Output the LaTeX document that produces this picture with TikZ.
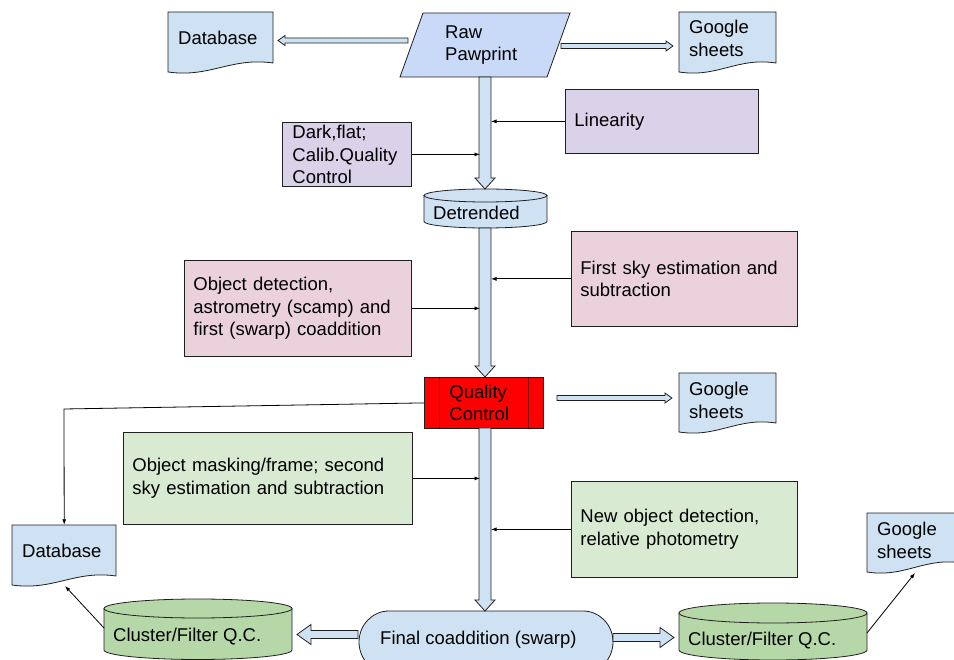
\documentclass[tikz,border=0pt]{standalone}
\usepackage{fontspec}
\setmainfont{Liberation Sans}
\usetikzlibrary{calc,arrows.meta}
\definecolor{docblue}{HTML}{CFE2F3}
\definecolor{rawblue}{HTML}{C9DAF8}
\definecolor{lav}{HTML}{D9D2E9}
\definecolor{pinkb}{HTML}{EAD1DC}
\definecolor{greenb}{HTML}{D9EAD3}
\definecolor{greencyl}{HTML}{B6D7A8}
\definecolor{qcred}{HTML}{FF0000}
\definecolor{qcline}{HTML}{7A0000}
\definecolor{edge}{HTML}{1F1F1F}

% fat (hollow) arrow from #1 to #2: shaft half width #3, head half width #4, head length #5
\newcommand\fatarrow[5]{%
  \coordinate (fah) at ($(#2)!#5!(#1)$);
  \filldraw[fatstyle] ($(#1)!#3!90:(#2)$) -- ($(fah)!#3!90:(#2)$) -- ($(fah)!#4!90:(#2)$) -- (#2)
    -- ($(fah)!#4!-90:(#2)$) -- ($(fah)!#3!-90:(#2)$) -- ($(#1)!#3!-90:(#2)$) -- cycle;}
% document shape: fill, left, top, right, bottom(left end of wave)
\newcommand\docshape[5]{%
  \filldraw[fill=#1,draw=edge,line width=0.8pt] (#2,#3) -- (#4,#3) -- (#4,{#5-9})
    .. controls ({#4-0.4*(#4-#2)},{#5-15}) and ({#2+0.4*(#4-#2)},{#5+6}) .. (#2,#5) -- cycle;}
% cylinder: fill, left, right, top ellipse centre y, bottom ellipse centre y, ry
\newcommand\cylshape[6]{%
  \filldraw[fill=#1,draw=edge,line width=0.8pt] (#2,#4) -- (#2,#5) arc (180:0:{(#3-#2)/2} and #6) -- (#3,#4) -- cycle;
  \filldraw[fill=#1,draw=edge,line width=0.8pt] ({(#2+#3)/2},#4) ellipse ({(#3-#2)/2} and #6);}

\begin{document}
\begin{tikzpicture}[x=1pt,y=-1pt,font={\fontsize{18.5}{22.8}\selectfont},
  box/.style={draw=edge,line width=0.8pt,align=left,inner xsep=9pt,inner ysep=0pt,anchor=north west,text=black},
  docnode/.style={anchor=west,inner xsep=10pt,inner ysep=0pt,align=left,minimum height=52pt,text=black},
  txt/.style={align=left,inner sep=0pt,text=black},
  conn/.style={draw=black,line width=0.8pt,-{Latex[length=5.5pt,width=4pt]}},
  fatstyle/.style={fill=docblue,draw=edge,line width=0.8pt}]
\useasboundingbox (0,0) rectangle (954,660);
\fill[white] (0,0) rectangle (954,660);
\clip (0,0) rectangle (954,660);

% documents
\docshape{docblue}{168}{12}{273}{72}
\node[docnode,text width=85pt] (db1) at (168,38) {Database};
\docshape{docblue}{679}{12}{776}{72}
\node[docnode,text width=77pt] (gs1) at (679,38) {Google\\sheets};
\docshape{docblue}{679}{373}{776}{432}
\node[docnode,text width=77pt] (gs2) at (679,400) {Google\\sheets};
\docshape{docblue}{867}{513}{962}{572}
\node[docnode,text width=75pt] (gs3) at (867,540) {Google\\sheets};
\docshape{docblue}{12}{525}{116}{585}
\node[docnode,text width=84pt] (db2) at (12,551) {Database};

% raw pawprint
\filldraw[fill=rawblue,draw=edge,line width=0.8pt] (423,13) -- (570,13) -- (547,77) -- (400,77) -- cycle;
\node[txt,anchor=west] (raw) at (445,45) {Raw\\Pawprint};

% process boxes
\node[box,fill=lav,minimum width=193pt,minimum height=64pt,text width=175pt] (lin) at (565,89) {Linearity};
\node[box,fill=lav,minimum width=129pt,minimum height=64pt,text width=109pt,inner xsep=10pt] (dark) at (282,122) {Dark,flat;\\Calib.Quality\\Control};
\node[box,fill=pinkb,minimum width=227pt,minimum height=96pt,text width=209pt] (objdet) at (184,260) {Object detection,\\astrometry (scamp) and\\first (swarp) coaddition};
\node[box,fill=pinkb,minimum width=226pt,minimum height=95pt,text width=208pt] (firstsky) at (571,231) {First sky estimation and\\subtraction};
\node[box,fill=greenb,minimum width=289pt,minimum height=92pt,text width=271pt] (objmask) at (123,432) {Object masking/frame; second\\sky estimation and subtraction};
\node[box,fill=greenb,minimum width=226pt,minimum height=96pt,text width=208pt] (newobj) at (571,481) {New object detection,\\relative photometry};

% cylinders
\cylshape{docblue}{424}{547}{195.5}{221.5}{6.5}
\node[txt,anchor=west] (det) at (433,213) {Detrended};
\cylshape{greencyl}{104}{292}{608.5}{650}{9.5}
\node[txt,anchor=west] (cl1) at (113,637) {Cluster/Filter Q.C.};
\cylshape{greencyl}{679}{867}{613}{650}{10}
\node[txt,anchor=west] (cl2) at (688,641) {Cluster/Filter Q.C.};

% final coaddition
\filldraw[fill=docblue,draw=edge,line width=0.8pt] (389,611) -- (583,611) arc (-90:90:30 and 31) -- (389,673) arc (90:270:30 and 31) -- cycle;
\node[txt,anchor=west] (fin) at (380,640) {Final coaddition (swarp)};

% quality control
\node[draw=edge,line width=0.8pt,fill=qcred,anchor=north west,minimum width=119pt,minimum height=51pt,
  inner xsep=25pt,inner ysep=0pt,text width=69pt,align=left,text=black] (qc) at (424,377) {Quality\\Control};
\draw[qcline,line width=0.8pt] ([xshift=15pt]qc.north west) -- ([xshift=15pt]qc.south west);
\draw[qcline,line width=0.8pt] ([xshift=-15pt]qc.north east) -- ([xshift=-15pt]qc.south east);

% main vertical arrows
\coordinate (v1a) at (485,77);  \coordinate (v1b) at (485,189);
\coordinate (v2a) at (485,228); \coordinate (v2b) at (485,377);
\coordinate (v3a) at (485,428); \coordinate (v3b) at (485,611);
\fatarrow{v1a}{v1b}{6pt}{10pt}{11pt}
\fatarrow{v2a}{v2b}{6pt}{10pt}{11pt}
\fatarrow{v3a}{v3b}{6pt}{10pt}{11pt}

% horizontal hollow arrows
\coordinate (h1a) at (408,40.5); \coordinate (h1b) at (278,40.5);
\coordinate (h2a) at (561,46);   \coordinate (h2b) at (673,46);
\coordinate (h3a) at (557,398);  \coordinate (h3b) at (672,398);
\coordinate (h4a) at (358,634.5); \coordinate (h4b) at (297,634.5);
\coordinate (h5a) at (613,637.5); \coordinate (h5b) at (674,637.5);
\fatarrow{h1a}{h1b}{2.5pt}{5pt}{7pt}
\fatarrow{h2a}{h2b}{2.5pt}{5pt}{7pt}
\fatarrow{h3a}{h3b}{2.5pt}{5pt}{7pt}
\fatarrow{h4a}{h4b}{4pt}{10pt}{14pt}
\fatarrow{h5a}{h5b}{4pt}{10pt}{14pt}

% thin connectors
\coordinate (mainL) at (480,0);
\coordinate (mainR) at (491,0);
\draw[conn] (lin.west) -- (lin.west -| mainR);
\draw[conn] (dark.east) -- (dark.east -| mainL);
\draw[conn] (firstsky.west) -- (firstsky.west -| mainR);
\draw[conn] (objdet.east) -- (objdet.east -| mainL);
\draw[conn] (objmask.east) -- (objmask.east -| mainL);
\draw[conn] (newobj.west) -- (newobj.west -| mainR);
\coordinate (qcbend) at (64,409);
\draw[conn] (qc.west) -- (qcbend) -- (db2.north);
\coordinate (cl1p) at (104,628); \coordinate (db2p) at (65,586);
\draw[conn] (cl1p) -- (db2p);
\coordinate (cl2p) at (867,633); \coordinate (gs3p) at (915,573);
\draw[conn] (cl2p) -- (gs3p);
\end{tikzpicture}
\end{document}
